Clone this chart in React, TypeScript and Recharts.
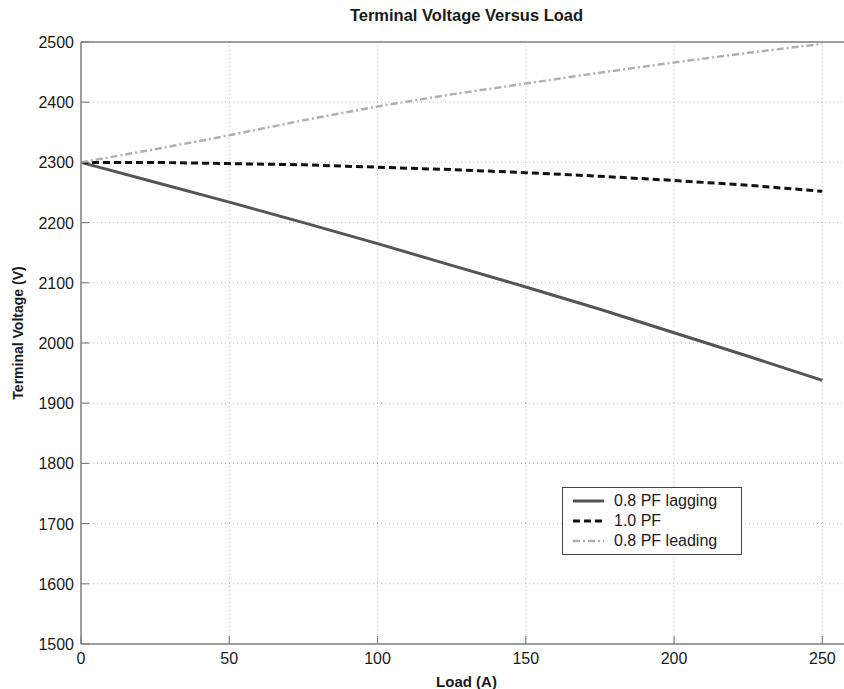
import { CartesianGrid, Legend, Line, LineChart, ReferenceLine, XAxis, YAxis } from "recharts";

const loads = [0, 25, 50, 75, 100, 125, 150, 175, 200, 225, 250];
const lagging = [2300, 2267, 2234, 2200, 2165, 2129, 2093, 2056, 2017, 1978, 1938];
const unity = [2300, 2300, 2298, 2296, 2292, 2288, 2283, 2277, 2270, 2262, 2252];
const leading = [2300, 2322, 2345, 2370, 2393, 2413, 2431, 2449, 2466, 2482, 2497];

const xTicks = [0, 50, 100, 150, 200, 250];
const yTicks = [1500, 1600, 1700, 1800, 1900, 2000, 2100, 2200, 2300, 2400, 2500];

const data = loads.map((load, i) => ({
  load,
  lagging: lagging[i],
  unity: unity[i],
  leading: leading[i],
}));

const series = [
  { key: "lagging", name: "0.8 PF lagging", color: "#555555", width: 3, dash: undefined as string | undefined },
  { key: "unity", name: "1.0 PF", color: "#111111", width: 3, dash: "7 4" },
  { key: "leading", name: "0.8 PF leading", color: "#b0b0b0", width: 2.5, dash: "7 3 2 3" },
];

const FONT = '"Liberation Sans", Arial, Helvetica, sans-serif';
const AXIS = "#808080";
const TICK = 8;

const BottomTick = ({ x, y, payload }: any) => (
  <g>
    <line x1={x} y1={y} x2={x} y2={y - TICK} stroke={AXIS} strokeWidth={1.2} />
    <text x={x} y={y + 20} textAnchor="middle" fontSize={16} fill="#1a1a1a" fontFamily={FONT}>
      {payload.value}
    </text>
  </g>
);

const TopTick = ({ x, y }: any) => (
  <line x1={x} y1={y} x2={x} y2={y + TICK} stroke={AXIS} strokeWidth={1.2} />
);

const LeftTick = ({ x, y, payload }: any) => (
  <g>
    <line x1={x} y1={y} x2={x + TICK} y2={y} stroke={AXIS} strokeWidth={1.2} />
    <text x={x - 7} y={y + 6} textAnchor="end" fontSize={16} fill="#1a1a1a" fontFamily={FONT}>
      {payload.value}
    </text>
  </g>
);

const RightTick = ({ x, y }: any) => (
  <line x1={x} y1={y} x2={x - TICK} y2={y} stroke={AXIS} strokeWidth={1.2} />
);

// y title drawn by hand so the rotation centre is exact
const YTitle = ({ viewBox }: any) => {
  const cx = viewBox.x + 18;
  const cy = viewBox.y + viewBox.height / 2 - 10;
  return (
    <text
      x={cx}
      y={cy}
      transform={`rotate(-90, ${cx}, ${cy})`}
      textAnchor="middle"
      dominantBaseline="central"
      fontSize={14}
      fontWeight="bold"
      fill="#1a1a1a"
      fontFamily={FONT}
    >
      Terminal Voltage (V)
    </text>
  );
};

function LegendBox() {
  return (
    <div
      style={{
        width: 170,
        boxSizing: "content-box",
        border: "1px solid #444",
        background: "#fff",
        padding: "3px 0 3px 8px",
        fontFamily: FONT,
        fontSize: 16,
        color: "#1a1a1a",
        lineHeight: "20px",
        textAlign: "left",
      }}
    >
      {series.map((s) => (
        <div key={s.key} style={{ display: "flex", alignItems: "center" }}>
          <svg width={35} height={12} style={{ marginRight: 8 }}>
            <line x1={2} y1={6} x2={33} y2={6} stroke={s.color} strokeWidth={s.width} strokeDasharray={s.dash} />
          </svg>
          <span>{s.name}</span>
        </div>
      ))}
    </div>
  );
}

export default function App() {
  return (
    <div style={{ position: "absolute", left: 0, top: 0, width: 844, height: 689, overflow: "hidden", background: "#fff" }}>
      <LineChart width={870} height={689} data={data} margin={{ top: 42, right: 18, left: 0, bottom: 0 }}>
        <CartesianGrid stroke="#b8b8b8" strokeDasharray="1 3" />
        <XAxis
          dataKey="load"
          type="number"
          domain={[0, 260]}
          ticks={xTicks}
          interval={0}
          height={45}
          stroke={AXIS}
          strokeWidth={1.5}
          tickLine={false}
          tickSize={0}
          tickMargin={0}
          tick={BottomTick}
          label={{ value: "Load (A)", position: "insideBottom", offset: 2, fontSize: 15, fontWeight: "bold", fill: "#1a1a1a", fontFamily: FONT }}
        />
        <XAxis
          xAxisId="top"
          orientation="top"
          dataKey="load"
          type="number"
          domain={[0, 260]}
          ticks={xTicks}
          interval={0}
          height={0}
          stroke={AXIS}
          strokeWidth={1.5}
          tickLine={false}
          tickSize={0}
          tickMargin={0}
          tick={TopTick}
        />
        <YAxis
          type="number"
          domain={[1500, 2500]}
          ticks={yTicks}
          interval={0}
          width={81}
          stroke={AXIS}
          strokeWidth={1.5}
          tickLine={false}
          tickSize={0}
          tickMargin={0}
          tick={LeftTick}
          label={{ content: YTitle }}
        />
        <YAxis
          yAxisId="right"
          orientation="right"
          type="number"
          domain={[1500, 2500]}
          ticks={yTicks}
          interval={0}
          width={0}
          stroke={AXIS}
          strokeWidth={1.5}
          tickLine={false}
          tickSize={0}
          tickMargin={0}
          tick={RightTick}
        />
        <ReferenceLine
          y={2500}
          stroke={AXIS}
          strokeWidth={1.5}
          label={{ value: "Terminal Voltage Versus Load", position: "top", offset: 21, fontSize: 16.5, fontWeight: "bold", fill: "#1a1a1a", fontFamily: FONT }}
        />
        <Legend
          layout="horizontal"
          verticalAlign="middle"
          align="center"
          content={<LegendBox />}
          wrapperStyle={{ position: "absolute", left: 562, top: 487, width: "auto" }}
        />
        {series.map((s) => (
          <Line
            key={s.key}
            type="linear"
            dataKey={s.key}
            name={s.name}
            stroke={s.color}
            strokeWidth={s.width}
            strokeDasharray={s.dash}
            dot={false}
            activeDot={false}
            isAnimationActive={false}
          />
        ))}
      </LineChart>
    </div>
  );
}
